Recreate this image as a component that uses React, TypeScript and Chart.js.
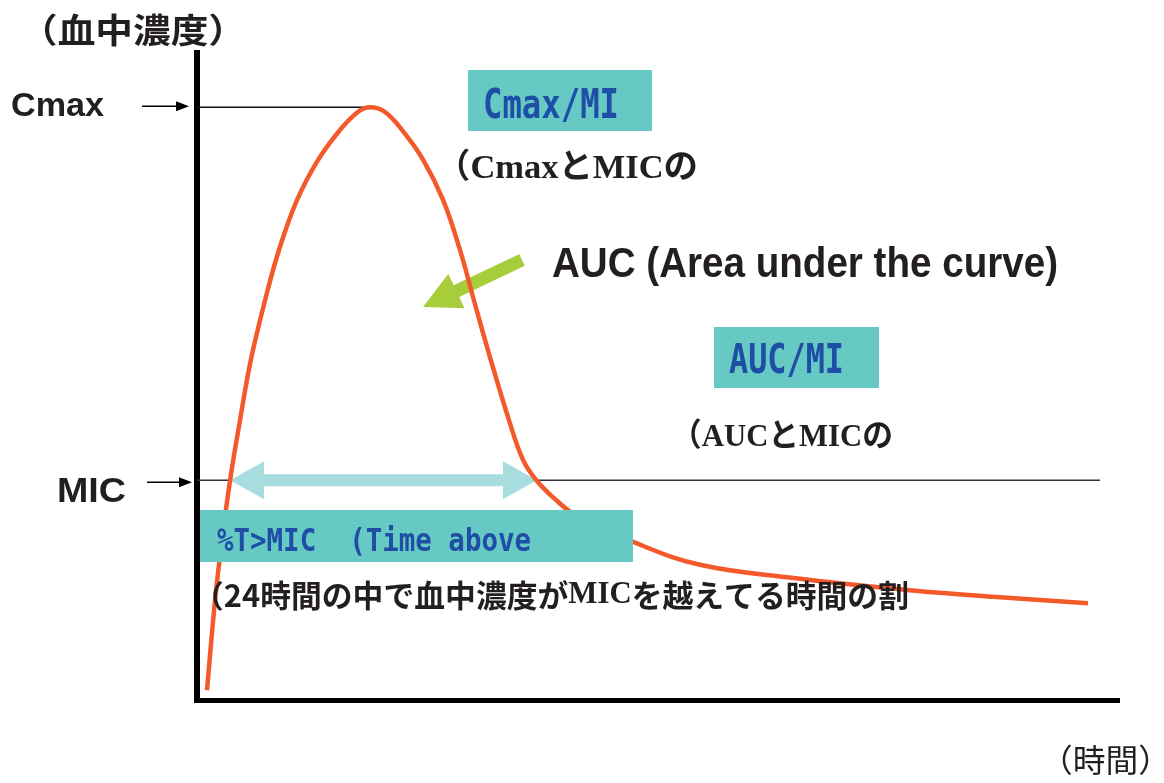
import React, { useEffect, useRef } from "react";
import { Chart, registerables } from "chart.js";

Chart.register(...registerables);

// Time (hours) and blood concentration (arbitrary units)
const timeHours = [0.26, 0.47, 0.65, 0.86, 1.12, 1.4, 1.77, 2.13, 2.6, 3.15, 3.72, 4.19, 4.5, 4.88, 5.33, 5.88, 6.4, 6.84, 7.2, 7.64, 8.11, 8.48, 8.84, 9.33, 9.83, 11.39, 13.08, 15.34, 18.54, 20.88, 23.17];
const concentration = [1.5, 15.4, 24.6, 33.8, 43.1, 52.3, 61.5, 69.2, 76.9, 83.1, 87.7, 90.5, 91.2, 90.5, 87.7, 83.1, 76.9, 69.2, 61.5, 52.3, 43.1, 36.9, 33.7, 30.8, 28.5, 24.2, 20.8, 18.9, 16.9, 15.8, 14.9];

const CMAX = 91.2;
const CMAX_TIME = 4.5;
const MIC = 33.8;
const T_ABOVE_START = 0.86;
const T_ABOVE_END = 8.84;
const MIC_LINE_END = 23.48;
const X_MAX = 24;
const Y_MAX = 100;

const yAxisTitle = "（血中濃度）";
const xAxisTitle = "（時間）";
const cmaxLabel = "Cmax";
const micLabel = "MIC";
const cmaxBox = "Cmax/MI";
const cmaxNote = "（CmaxとMICの";
const aucLabel = "AUC (Area under the curve)";
const aucBox = "AUC/MI";
const aucNote = "（AUCとMICの";
const tmicBox = "%T>MIC  (Time above";
const tmicNote1 = "（24時間の中で血中濃度が";
const tmicNote2 = "MIC";
const tmicNote3 = "を越えてる時間の割";

const ORANGE = "#F4592B";
const TEAL = "#66C9C4";
const BLUE = "#1E4EA6";
const CYAN = "#A8DDE0";
const GREEN = "#A7CD3A";
const DARK = "#231F20";

function fitText(ctx: CanvasRenderingContext2D, s: string, x1: number, x2: number, y: number, font: string, color: string, sy = 1, baseline: CanvasTextBaseline = "alphabetic") {
  ctx.save();
  ctx.font = font;
  ctx.fillStyle = color;
  ctx.textAlign = "left";
  ctx.textBaseline = baseline;
  const w = ctx.measureText(s).width;
  const sx = (x2 - x1) / w;
  ctx.translate(x1, y);
  ctx.scale(sx, sy);
  ctx.fillText(s, 0, 0);
  ctx.restore();
}

function segText(ctx: CanvasRenderingContext2D, segs: [string, string][], x1: number, x2: number, y: number, color: string) {
  ctx.save();
  ctx.fillStyle = color;
  ctx.textAlign = "left";
  ctx.textBaseline = "middle";
  let total = 0;
  const ws: number[] = [];
  for (const [s, f] of segs) {
    ctx.font = f;
    const w = ctx.measureText(s).width;
    ws.push(w);
    total += w;
  }
  const sx = (x2 - x1) / total;
  ctx.translate(x1, y);
  ctx.scale(sx, 1);
  let x = 0;
  segs.forEach(([s, f], i) => {
    ctx.font = f;
    ctx.fillText(s, x, 0);
    x += ws[i];
  });
  ctx.restore();
}

function thinArrow(ctx: CanvasRenderingContext2D, x1: number, x2: number, y: number) {
  ctx.save();
  ctx.strokeStyle = "#000";
  ctx.fillStyle = "#000";
  ctx.lineWidth = 1.5;
  ctx.beginPath();
  ctx.moveTo(x1, y);
  ctx.lineTo(x2 - 10, y);
  ctx.stroke();
  ctx.beginPath();
  ctx.moveTo(x2, y);
  ctx.lineTo(x2 - 13, y - 5);
  ctx.lineTo(x2 - 13, y + 5);
  ctx.closePath();
  ctx.fill();
  ctx.restore();
}

const pkPlugin = {
  id: "pkAnnotations",
  beforeDatasetsDraw(chart: any) {
    const { ctx, chartArea, scales } = chart;
    const xs = scales.x;
    const ys = scales.y;
    ctx.save();
    // axes
    ctx.fillStyle = "#000";
    ctx.fillRect(chartArea.left - 3, chartArea.top, 6, chartArea.bottom - chartArea.top + 3);
    ctx.fillRect(chartArea.left - 3, chartArea.bottom - 2, chartArea.right - chartArea.left + 3, 5);
    // Cmax line
    const yC = ys.getPixelForValue(CMAX);
    ctx.strokeStyle = "#111";
    ctx.lineWidth = 1.5;
    ctx.beginPath();
    ctx.moveTo(chartArea.left, yC);
    ctx.lineTo(xs.getPixelForValue(CMAX_TIME), yC);
    ctx.stroke();
    // MIC line
    const yM = ys.getPixelForValue(MIC);
    ctx.strokeStyle = "#333";
    ctx.beginPath();
    ctx.moveTo(chartArea.left, yM);
    ctx.lineTo(xs.getPixelForValue(MIC_LINE_END), yM);
    ctx.stroke();
    // green arrow
    const tail = { x: 522, y: 260 };
    const tip = { x: 423, y: 307 };
    const dx = tip.x - tail.x, dy = tip.y - tail.y;
    const len = Math.hypot(dx, dy);
    const ux = dx / len, uy = dy / len;
    const px = -uy, py = ux;
    const headLen = 37, headHalf = 19, shaftHalf = 6.5;
    const bx = tip.x - ux * headLen, by = tip.y - uy * headLen;
    ctx.fillStyle = GREEN;
    ctx.beginPath();
    ctx.moveTo(tail.x + px * shaftHalf, tail.y + py * shaftHalf);
    ctx.lineTo(bx + px * shaftHalf, by + py * shaftHalf);
    ctx.lineTo(bx + px * headHalf, by + py * headHalf);
    ctx.lineTo(tip.x, tip.y);
    ctx.lineTo(bx - px * headHalf, by - py * headHalf);
    ctx.lineTo(bx - px * shaftHalf, by - py * shaftHalf);
    ctx.lineTo(tail.x - px * shaftHalf, tail.y - py * shaftHalf);
    ctx.closePath();
    ctx.fill();
    // cyan double arrow
    const xa = xs.getPixelForValue(T_ABOVE_START);
    const xb = xs.getPixelForValue(T_ABOVE_END);
    ctx.fillStyle = CYAN;
    ctx.beginPath();
    ctx.moveTo(xa, yM);
    ctx.lineTo(xa + 34, yM - 19);
    ctx.lineTo(xa + 34, yM - 6);
    ctx.lineTo(xb - 34, yM - 6);
    ctx.lineTo(xb - 34, yM - 19);
    ctx.lineTo(xb, yM);
    ctx.lineTo(xb - 34, yM + 19);
    ctx.lineTo(xb - 34, yM + 6);
    ctx.lineTo(xa + 34, yM + 6);
    ctx.lineTo(xa + 34, yM + 19);
    ctx.closePath();
    ctx.fill();
    ctx.restore();
  },
  afterDatasetsDraw(chart: any) {
    const { ctx, scales } = chart;
    const ys = scales.y;
    const yC = ys.getPixelForValue(CMAX);
    const yM = ys.getPixelForValue(MIC);
    ctx.save();
    // left labels
    fitText(ctx, yAxisTitle, 20, 246, 30, "bold 34px 'Noto Sans CJK JP'", DARK, 1, "middle");
    fitText(ctx, cmaxLabel, 11, 104, 116, "bold 32px 'Liberation Sans'", DARK, 1.05);
    fitText(ctx, micLabel, 57, 126, 502, "bold 34px 'Liberation Sans'", DARK, 1.05);
    thinArrow(ctx, 142, 189, yC - 1);
    thinArrow(ctx, 147, 192, yM + 2);
    // boxes
    ctx.fillStyle = TEAL;
    ctx.fillRect(468, 70, 184, 61);
    ctx.fillRect(714, 327, 165, 61);
    ctx.fillRect(200, 510, 433, 52);
    fitText(ctx, cmaxBox, 483, 619, 118, "bold 31px 'DejaVu Sans Mono'", BLUE, 1.33);
    fitText(ctx, aucBox, 729, 844, 373, "bold 31px 'DejaVu Sans Mono'", BLUE, 1.33);
    fitText(ctx, tmicBox, 217, 531, 551, "bold 27px 'DejaVu Sans Mono'", BLUE, 1.2);
    // notes
    fitText(ctx, cmaxNote, 436, 698, 169, "bold 34px 'Liberation Serif', 'Noto Sans CJK JP'", DARK, 1, "middle");
    fitText(ctx, aucNote, 671, 893, 438, "bold 32px 'Liberation Serif', 'Noto Sans CJK JP'", DARK, 1, "middle");
    fitText(ctx, aucLabel, 552, 1058, 277, "bold 38px 'Liberation Sans'", DARK, 1.12);
    segText(ctx, [
      [tmicNote1, "bold 31px 'Noto Sans CJK JP'"],
      [tmicNote2, "bold 31px 'Liberation Serif'"],
      [tmicNote3, "bold 31px 'Noto Sans CJK JP'"],
    ], 193, 909, 595, DARK);
    fitText(ctx, xAxisTitle, 1040, 1171, 760, "32px 'Noto Sans CJK JP'", DARK, 1, "middle");
    ctx.restore();
  },
};

export default function App() {
  const ref = useRef<HTMLCanvasElement | null>(null);
  useEffect(() => {
    if (!ref.current) return;
    const chart = new Chart(ref.current, {
      type: "line",
      data: {
        datasets: [
          {
            data: timeHours.map((t, i) => ({ x: t, y: concentration[i] })),
            borderColor: ORANGE,
            borderWidth: 4.5,
            pointRadius: 0,
            fill: false,
            tension: 0.4,
          },
        ],
      },
      options: {
        responsive: false,
        animation: false,
        layout: { padding: { left: 197, top: 50, right: 44, bottom: 83 } },
        scales: {
          x: { type: "linear", min: 0, max: X_MAX, display: false },
          y: { type: "linear", min: 0, max: Y_MAX, display: false },
        },
        plugins: { legend: { display: false }, tooltip: { enabled: false }, title: { display: false } },
        events: [],
      },
      plugins: [pkPlugin],
    });
    return () => chart.destroy();
  }, []);
  return (
    <div style={{ position: "absolute", left: 0, top: 0, width: 1164, height: 783, background: "#fff" }}>
      <canvas ref={ref} width={1164} height={783} />
    </div>
  );
}
